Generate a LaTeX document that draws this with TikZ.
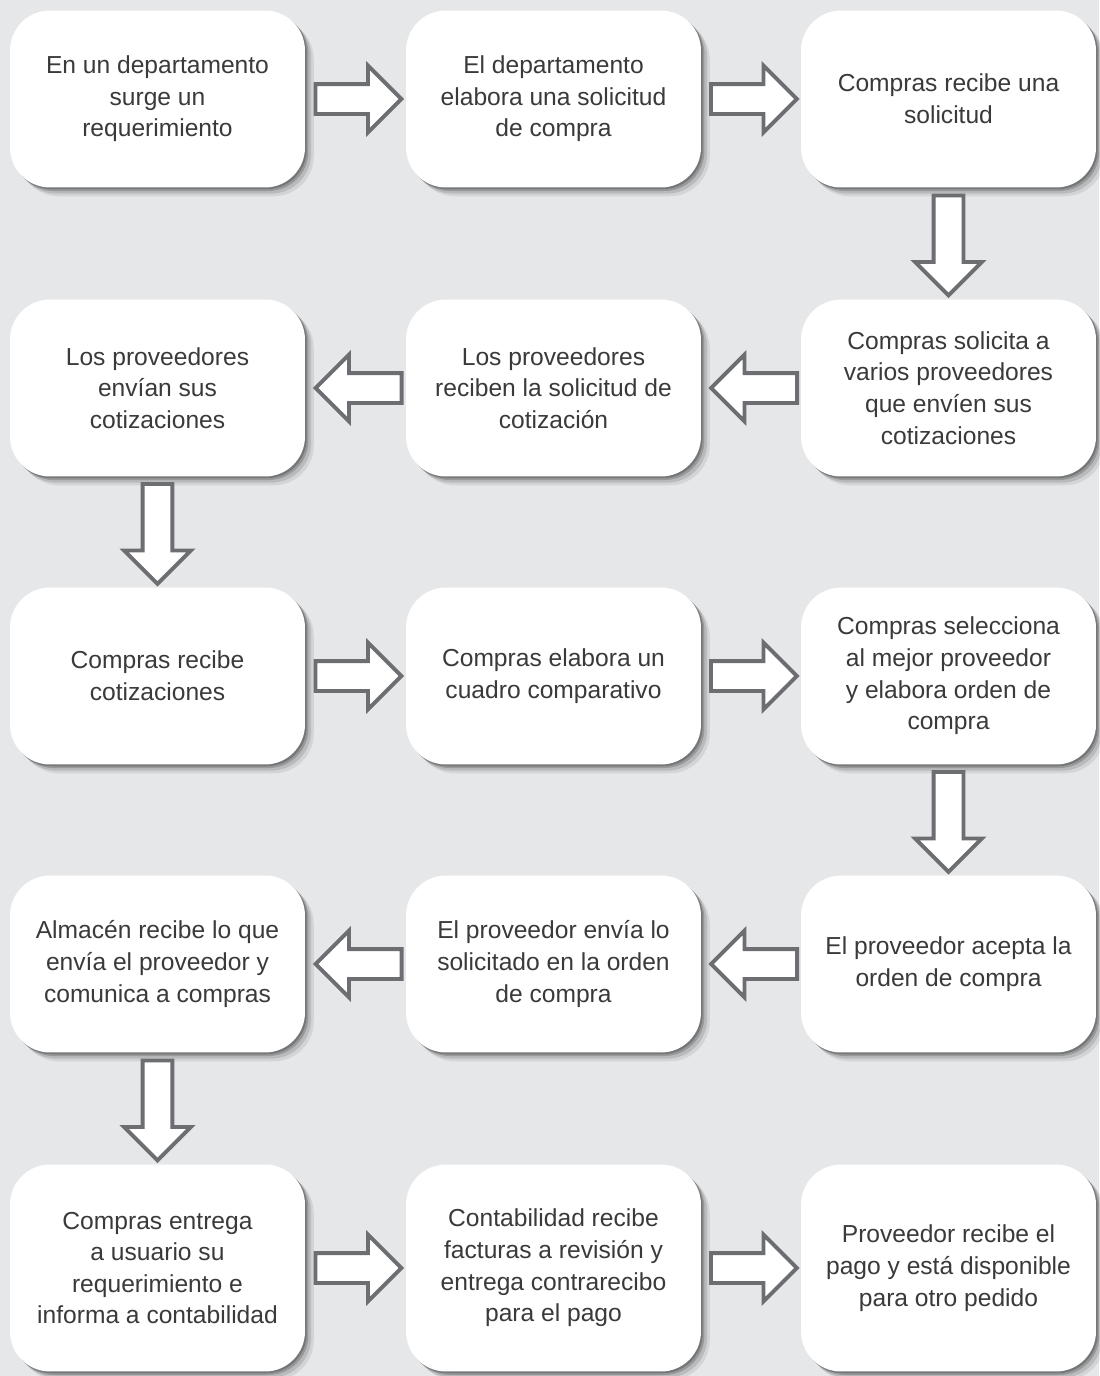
\documentclass[tikz,border=0pt]{standalone}
\usepackage{fontspec}
\setmainfont{Liberation Sans}
\usetikzlibrary{shapes.arrows,shadows,calc}
\definecolor{fondo}{HTML}{E6E7E8}
\definecolor{borde}{HTML}{6D6E71}
\definecolor{texto}{HTML}{3A3A3C}
\tikzset{
  paso/.style={fill=white, rounded corners=0.8cm, minimum width=5.9cm,
    minimum height=3.54cm, align=center, text=texto,
    font=\fontsize{14}{18}\selectfont,
    execute at begin node={\rule{0pt}{17.5pt}},
    drop shadow={shadow xshift=5pt, shadow yshift=-5pt, opacity=0.08, fill=black},
    drop shadow={shadow xshift=3.5pt, shadow yshift=-3.5pt, opacity=0.12, fill=black},
    drop shadow={shadow xshift=2pt, shadow yshift=-2pt, opacity=0.18, fill=black},
    drop shadow={shadow xshift=1pt, shadow yshift=-1pt, opacity=0.22, fill=black}},
  flecha/.style={single arrow, draw=borde, fill=white, line width=2.2pt,
    inner xsep=0pt, inner ysep=0.26cm, minimum width=0pt, minimum height=1.72cm,
    single arrow head extend=0.37cm, single arrow tip angle=90, anchor=tail},
  bajada/.style={flecha, rotate=-90, minimum height=2cm}
}
\begin{document}
\begin{tikzpicture}[x=0.02cm, y=-0.02cm]
    \fill[fondo] (0,0) rectangle (1099,1376);
    \useasboundingbox (0,0) rectangle (1099,1376);
    % Fila 1
    \node[paso] (p1) at (157.5,99) {En un departamento\\surge un\\requerimiento};
    \node[paso] (p2) at (553.5,99) {El departamento\\elabora una solicitud\\de compra};
    \node[paso] (p3) at (948.5,99) {Compras recibe una\\solicitud};
    % Fila 2
    \node[paso] (p4) at (948.5,388) {Compras solicita a\\varios proveedores\\que envíen sus\\cotizaciones};
    \node[paso] (p5) at (553.5,388) {Los proveedores\\reciben la solicitud de\\cotización};
    \node[paso] (p6) at (157.5,388) {Los proveedores\\envían sus\\cotizaciones};
    % Fila 3
    \node[paso] (p7) at (157.5,676) {Compras recibe\\cotizaciones};
    \node[paso] (p8) at (553.5,676) {Compras elabora un\\cuadro comparativo};
    \node[paso] (p9) at (948.5,676) {Compras selecciona\\al mejor proveedor\\y elabora orden de\\compra};
    % Fila 4
    \node[paso] (p10) at (948.5,964) {El proveedor acepta la\\orden de compra};
    \node[paso] (p11) at (553.5,964) {El proveedor envía lo\\solicitado en la orden\\de compra};
    \node[paso] (p12) at (157.5,964) {Almacén recibe lo que\\envía el proveedor y\\comunica a compras};
    % Fila 5
    \node[paso, minimum height=4.14cm] (p13) at (157.5,1268) {Compras entrega\\a usuario su\\requerimiento e\\informa a contabilidad};
    \node[paso, minimum height=4.14cm] (p14) at (553.5,1268) {Contabilidad recibe\\facturas a revisión y\\entrega contrarecibo\\para el pago};
    \node[paso, minimum height=4.14cm] (p15) at (948.5,1268) {Proveedor recibe el\\pago y está disponible\\para otro pedido};
    % Flechas
    \node[flecha] (f1) at ($(p1.east)!0.5!(p2.west)+(-42,0)$) {};
    \node[flecha] (f2) at ($(p2.east)!0.5!(p3.west)+(-42,0)$) {};
    \node[bajada] (f3) at ($(p3.south)!0.5!(p4.north)+(0,-50)$) {};
    \node[flecha, rotate=180] (f4) at ($(p4.west)!0.5!(p5.east)+(48,0)$) {};
    \node[flecha, rotate=180] (f5) at ($(p5.west)!0.5!(p6.east)+(48,0)$) {};
    \node[bajada] (f6) at ($(p6.south)!0.5!(p7.north)+(0,-50)$) {};
    \node[flecha] (f7) at ($(p7.east)!0.5!(p8.west)+(-42,0)$) {};
    \node[flecha] (f8) at ($(p8.east)!0.5!(p9.west)+(-42,0)$) {};
    \node[bajada] (f9) at ($(p9.south)!0.5!(p10.north)+(0,-50)$) {};
    \node[flecha, rotate=180] (f10) at ($(p10.west)!0.5!(p11.east)+(48,0)$) {};
    \node[flecha, rotate=180] (f11) at ($(p11.west)!0.5!(p12.east)+(48,0)$) {};
    \node[bajada] (f12) at ($(p12.south)!0.5!(p13.north)+(0,-50)$) {};
    \node[flecha] (f13) at ($(p13.east)!0.5!(p14.west)+(-42,0)$) {};
    \node[flecha] (f14) at ($(p14.east)!0.5!(p15.west)+(-42,0)$) {};
\end{tikzpicture}
\end{document}
